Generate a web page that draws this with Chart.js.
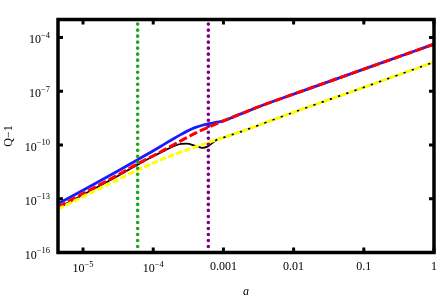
<!DOCTYPE html>
<html>
<head>
<meta charset="utf-8">
<script src="https://cdn.jsdelivr.net/npm/chart.js@4.4.1/dist/chart.umd.min.js"></script>
<style>
  html, body { margin: 0; padding: 0; background: #fff; }
  canvas { display: block; }
</style>
</head>
<body>
<canvas id="chart" width="443" height="298"></canvas>
<script>
// values (log-log)
const aVals = [4.4e-6, 1e-5, 3e-5, 6e-5, 1e-4, 1.5e-4, 2e-4, 2.5e-4, 3e-4, 4e-4, 5e-4,
  6e-4, 7e-4, 8e-4, 1e-3, 1.5e-3, 2e-3, 3e-3, 1e-2, 0.1, 1];

const blueVals = [5.31e-14, 2.99e-13, 3.20e-12, 1.49e-11, 4.71e-11, 1.23e-10, 2.39e-10, 3.90e-10,
  5.73e-10, 9.55e-10, 1.26e-9, 1.50e-9, 1.68e-9, 1.86e-9, 2.19e-9, 4.17e-9, 6.52e-9, 1.24e-8,
  6.89e-8, 1.69e-6, 4.21e-5];
const redVals = [3.40e-14, 1.91e-13, 1.92e-12, 8.91e-12, 2.48e-11, 5.86e-11, 1.08e-10, 1.74e-10,
  2.59e-10, 4.60e-10, 6.93e-10, 9.55e-10, 1.23e-9, 1.53e-9, 2.19e-9, 4.17e-9, 6.52e-9, 1.24e-8,
  6.89e-8, 1.69e-6, 4.21e-5];
const blackVals = [2.99e-14, 1.68e-13, 1.69e-12, 8.03e-12, 2.33e-11, 5.15e-11, 8.93e-11, 1.15e-10,
  1.18e-10, 8.93e-11, 6.92e-11, 8.38e-11, 1.31e-10, 1.93e-10, 2.59e-10, 4.43e-10, 6.50e-10, 1.17e-9,
  6.68e-9, 1.64e-7, 4.20e-6];
const yellowVals = [2.62e-14, 1.30e-13, 1.08e-12, 3.98e-12, 9.75e-12, 1.90e-11, 2.93e-11, 4.04e-11,
  5.21e-11, 7.76e-11, 1.04e-10, 1.33e-10, 1.63e-10, 1.95e-10, 2.59e-10, 4.43e-10, 6.50e-10, 1.17e-9,
  6.68e-9, 1.64e-7, 4.20e-6];

// vertical markers
const greenA = 6e-5;
const purpleA = 6.1e-4;

// axis range and ticks
const xRange = [4.4e-6, 1];
const yRange = [1e-16, 1e-3];
const xTicks = [1e-5, 1e-4, 1e-3, 0.01, 0.1, 1];
const xTickLabels = ['10^\u22125', '10^\u22124', '0.001', '0.01', '0.1', '1'];
const yTicks = [1e-4, 1e-7, 1e-10, 1e-13, 1e-16];
const yTickLabels = ['10^\u22124', '10^\u22127', '10^\u221210', '10^\u221213', '10^\u221216'];

const SERIF = '"Liberation Serif", "DejaVu Serif", serif';

function pts(ys) {
  return aVals.map((a, i) => ({ x: a, y: ys[i] }));
}

function vline(a) {
  return [{ x: a, y: yRange[0] }, { x: a, y: yRange[1] }];
}

// draws "10^-5" style labels with a raised exponent
function drawLabel(ctx, text, px, baseY, expY, align) {
  const parts = text.split('^');
  ctx.font = '12px ' + SERIF;
  const wb = ctx.measureText(parts[0]).width;
  let we = 0;
  if (parts[1]) {
    ctx.font = '8.5px ' + SERIF;
    we = ctx.measureText(parts[1]).width;
  }
  const w = wb + we;
  const start = align === 'right' ? px - w : px - w / 2;
  ctx.textAlign = 'left';
  ctx.textBaseline = 'alphabetic';
  ctx.font = '12px ' + SERIF;
  ctx.fillText(parts[0], start, parts[1] ? baseY : baseY - 2.5);
  if (parts[1]) {
    ctx.font = '8.5px ' + SERIF;
    ctx.fillText(parts[1], start + wb, expY);
  }
}

const framePlugin = {
  id: 'frame',
  afterDatasetsDraw(chart) {
    const { ctx, chartArea: area, scales } = chart;
    const xs = scales.x, ys = scales.y;
    ctx.save();
    ctx.strokeStyle = '#000';
    ctx.fillStyle = '#000';
    ctx.lineWidth = 3.5;
    ctx.strokeRect(area.left, area.top, area.right - area.left, area.bottom - area.top);

    // inward ticks on all four sides
    ctx.lineWidth = 3;
    ctx.beginPath();
    xTicks.forEach(v => {
      const px = xs.getPixelForValue(v);
      ctx.moveTo(px, area.bottom); ctx.lineTo(px, area.bottom - 5);
      ctx.moveTo(px, area.top); ctx.lineTo(px, area.top + 5);
    });
    yTicks.forEach(v => {
      const py = ys.getPixelForValue(v);
      ctx.moveTo(area.left, py); ctx.lineTo(area.left + 5, py);
      ctx.moveTo(area.right, py); ctx.lineTo(area.right - 5, py);
    });
    ctx.stroke();

    // tick labels
    xTicks.forEach((v, i) => {
      const px = xs.getPixelForValue(v);
      drawLabel(ctx, xTickLabels[i], px, area.bottom + 19.5, area.bottom + 14, 'center');
    });
    yTicks.forEach((v, i) => {
      const py = ys.getPixelForValue(v);
      drawLabel(ctx, yTickLabels[i], area.left - 8, py + 6, py + 0.5, 'right');
    });

    // axis titles
    ctx.font = 'italic 12px ' + SERIF;
    ctx.textAlign = 'center';
    ctx.textBaseline = 'alphabetic';
    ctx.fillText('a', (area.left + area.right) / 2, 295);

    ctx.translate(12, (area.top + area.bottom) / 2);
    ctx.rotate(-Math.PI / 2);
    ctx.font = '12px ' + SERIF;
    ctx.fillText('Q\u22121', 0, 0);
    ctx.restore();
  }
};

new Chart(document.getElementById('chart').getContext('2d'), {
  type: 'line',
  data: {
    datasets: [
      {
        data: vline(greenA),
        borderColor: '#1ea51e',
        borderWidth: 3.6,
        borderDash: [0.01, 6],
        borderCapStyle: 'round',
        tension: 0,
        cubicInterpolationMode: 'default'
      },
      {
        data: vline(purpleA),
        borderColor: '#800080',
        borderWidth: 3.6,
        borderDash: [0.01, 6],
        borderCapStyle: 'round',
        tension: 0,
        cubicInterpolationMode: 'default'
      },
      {
        data: pts(yellowVals),
        borderColor: '#ffff00',
        borderWidth: 3,
        borderDash: [6.5, 2.2]
      },
      {
        data: pts(redVals),
        borderColor: '#ff0000',
        borderWidth: 3,
        borderDash: [8.5, 3]
      },
      {
        data: pts(blackVals),
        borderColor: '#000000',
        borderWidth: 1.8
      },
      {
        data: pts(blueVals),
        borderColor: '#1a1aff',
        borderWidth: 2.8
      }
    ]
  },
  options: {
    responsive: false,
    animation: false,
    layout: { padding: { left: 58, right: 9, top: 19.5, bottom: 45.5 } },
    elements: {
      point: { radius: 0 },
      line: { cubicInterpolationMode: 'monotone', fill: false }
    },
    plugins: {
      legend: { display: false },
      tooltip: { enabled: false }
    },
    scales: {
      x: { type: 'logarithmic', min: xRange[0], max: xRange[1], display: false },
      y: { type: 'logarithmic', min: yRange[0], max: yRange[1], display: false }
    }
  },
  plugins: [framePlugin]
});
</script>
</body>
</html>
